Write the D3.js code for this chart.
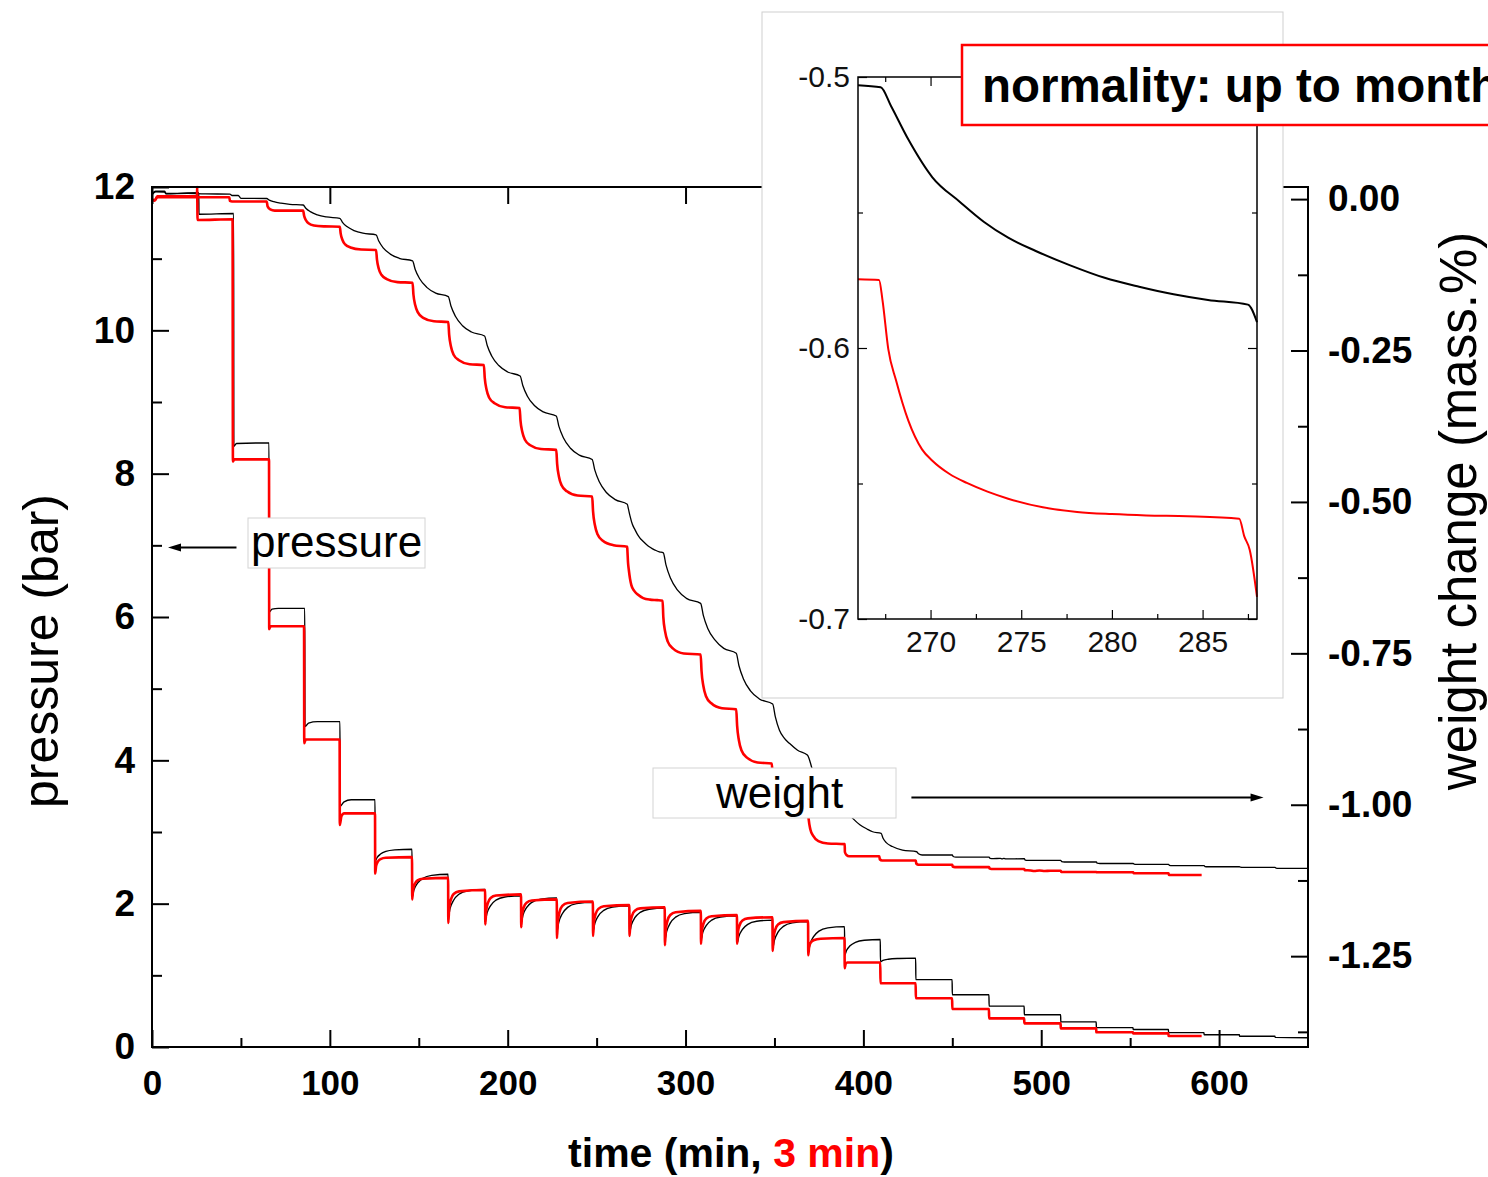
<!DOCTYPE html>
<html><head><meta charset="utf-8">
<script src="https://cdn.jsdelivr.net/npm/d3@7"></script>
<style>
body{margin:0;background:#fff}
svg{display:block}
text{font-family:"Liberation Sans",Arial,Helvetica,sans-serif}
</style>
</head><body>
<svg id="c" width="1488" height="1177"></svg>
<script>
// ---------------- DATA ----------------
const timeTicks = [0,100,200,300,400,500,600];
const timeTickLabels = ["0","100","200","300","400","500","600"];
const timeMinorTicks = [50,150,250,350,450,550];
const pressureTicks = [0,2,4,6,8,10,12];
const pressureTickLabels = ["0","2","4","6","8","10","12"];
const pressureMinorTicks = [1,3,5,7,9,11];
const weightTicks = [0,-0.25,-0.5,-0.75,-1.0,-1.25];
const weightTickLabels = ["0.00","-0.25","-0.50","-0.75","-1.00","-1.25"];
const weightMinorTicks = [-0.125,-0.375,-0.625,-0.875,-1.125,-1.375];
const insetTimeTicks = [270,275,280,285];
const insetTimeTickLabels = ["270","275","280","285"];
const insetTimeMinorTicks = [267.5,272.5,277.5,282.5,287.5];
const insetWeightTicks = [-0.5,-0.6,-0.7];
const insetWeightTickLabels = ["-0.5","-0.6","-0.7"];
const insetWeightMinorTicks = [-0.55,-0.65];

// [time (min), pressure (bar)]
const pressureRed = [
[0,11.83],[1.5,11.81],[3,11.87],[25.3,11.87],[25.4,12.0],[25.6,11.54],[45.3,11.55],[45.5,8.17],[46.2,8.2],[65.8,8.2],
[65.9,5.83],[66.6,5.87],[85.5,5.87],[85.6,4.24],[86.4,4.29],[105.5,4.29],[105.6,3.10],[106.5,3.22],[108,3.26],[125.4,3.26],
[125.5,2.42],[126,2.524],[127,2.586],[128.5,2.622],[131.5,2.641],[146.2,2.65],
[146.3,2.06],[146.8,2.195],[147.8,2.276],[149.3,2.324],[152.3,2.348],[166.5,2.36],
[166.6,1.73],[167.1,1.937],[168.1,2.061],[169.6,2.135],[172.6,2.172],[187.3,2.19],
[187.4,1.71],[187.9,1.899],[188.9,2.012],[190.4,2.08],[193.4,2.113],[207.5,2.13],
[207.6,1.67],[208.1,1.846],[209.1,1.951],[210.6,2.013],[213.6,2.044],[227.6,2.06],
[227.7,1.52],[228.2,1.75],[229.2,1.887],[230.7,1.969],[233.7,2.01],[247.9,2.03],
[248,1.55],[248.5,1.744],[249.5,1.86],[251,1.928],[254,1.963],[268.4,1.98],
[268.5,1.55],[269,1.73],[270,1.838],[271.5,1.902],[274.5,1.934],[288.3,1.95],
[288.4,1.42],[288.9,1.636],[289.9,1.766],[291.4,1.842],[294.4,1.881],[308.6,1.90],
[308.7,1.44],[309.2,1.62],[310.2,1.728],[311.7,1.792],[314.7,1.824],[328.9,1.84],
[329,1.44],[329.5,1.607],[330.5,1.706],[332,1.766],[335,1.795],[348.9,1.81],
[349,1.34],[349.5,1.529],[350.5,1.642],[352,1.71],[355,1.743],[368.9,1.76],
[369,1.28],[369.5,1.40],[370.5,1.46],[372,1.49],[376,1.51],[389.4,1.52],
[389.5,1.10],[390,1.16],[391,1.18],[409.5,1.18],
[409.6,0.89],[429.4,0.89],
[429.5,0.68],[449.9,0.68],
[450,0.53],[470.6,0.53],
[470.7,0.40],[490.4,0.40],
[490.5,0.33],[510.9,0.33],
[511,0.26],[530.9,0.26],
[531,0.205],[551.6,0.205],
[551.7,0.19],[571.5,0.19],
[571.6,0.153],[590.2,0.153]
];
const pressureBlack = [
[0,11.9],[2,11.94],[7,11.94],[8,11.91],[26.3,11.92],[26.4,11.62],[45.9,11.63],[46,8.38],[47.5,8.42],[65.8,8.43],
[65.9,6.07],[67.5,6.11],[71,6.12],[85.9,6.12],[86,4.47],[88,4.52],[93,4.54],[105.7,4.54],[105.8,3.36],[108,3.42],[112,3.45],[125.4,3.45],
[125.5,2.59],[126.5,2.641],[128.5,2.692],[131.5,2.729],[136.5,2.75],[146.2,2.76],
[146.3,2.10],[147.3,2.193],[149.3,2.286],[152.3,2.354],[157.3,2.395],[166.5,2.41],
[166.6,1.82],[167.6,1.934],[169.6,2.048],[172.6,2.132],[177.6,2.181],[187.3,2.20],
[187.4,1.77],[188.4,1.872],[190.4,1.974],[193.4,2.049],[198.4,2.093],[207.5,2.11],
[207.6,1.74],[208.6,1.842],[210.6,1.944],[213.6,2.019],[218.6,2.063],[227.6,2.08],
[227.7,1.62],[228.7,1.74],[230.7,1.86],[233.7,1.948],[238.7,2.0],[247.9,2.02],
[248,1.62],[249,1.725],[251,1.83],[254,1.907],[259,1.952],[268.4,1.97],
[268.5,1.60],[269.5,1.702],[271.5,1.804],[274.5,1.879],[279.5,1.923],[288.3,1.94],
[288.4,1.50],[289.4,1.614],[291.4,1.728],[294.4,1.812],[299.4,1.861],[308.6,1.88],
[308.7,1.50],[309.7,1.599],[311.7,1.698],[314.7,1.771],[319.7,1.814],[328.9,1.83],
[329,1.45],[330,1.546],[332,1.642],[335,1.712],[340,1.754],[348.9,1.77],
[349,1.38],[350,1.491],[352,1.602],[355,1.683],[360,1.732],[368.9,1.75],
[369,1.33],[370,1.435],[372,1.54],[375,1.617],[380,1.663],[389.4,1.68],
[389.5,1.28],[390.5,1.346],[392.5,1.412],[395.5,1.46],[400.5,1.489],[409.5,1.50],
[409.6,1.19],[411,1.21],[414,1.225],[420,1.235],[429.4,1.24],
[429.5,0.94],[449.9,0.94],
[450,0.73],[470.6,0.73],
[470.7,0.57],[490.4,0.57],
[490.5,0.45],[510.9,0.45],
[511,0.35],[530.9,0.35],
[531,0.27],[551.6,0.27],
[551.7,0.245],[571.5,0.245],
[571.6,0.20],[591.5,0.20],
[591.6,0.17],[611.4,0.17],
[611.5,0.15],[631.4,0.15],
[631.5,0.135],[650,0.13]
];
// [time (min), weight change (mass.%)]
const weightRed = [
[0,-0.0015],[1.5,-0.002],[3,0.003],[43.5,0.003],[43.8,-0.003],[45,-0.004],[64.5,-0.004],
[65,-0.012],[66.5,-0.017],[69,-0.019],[85,-0.019],
[85.5,-0.027],[86.5,-0.0345],[88,-0.040],[91,-0.0435],[97,-0.045],[105.6,-0.0456],
[106.1,-0.057],[107.1,-0.0675],[108.6,-0.0748],[111.6,-0.0798],[117.6,-0.0833],[126,-0.084],
[126.5,-0.100],[127.5,-0.115],[129,-0.125],[132,-0.132],[138,-0.137],[146.5,-0.138],
[147,-0.1575],[148,-0.175],[149.5,-0.187],[152.5,-0.196],[158.5,-0.2017],[166.6,-0.203],
[167.1,-0.224],[168.1,-0.2435],[169.6,-0.257],[172.6,-0.266],[178.6,-0.2726],[186.6,-0.274],
[187.1,-0.295],[188.1,-0.3145],[189.6,-0.328],[192.6,-0.337],[198.6,-0.3436],[206.7,-0.345],
[207.2,-0.3657],[208.2,-0.3843],[209.7,-0.3974],[212.7,-0.4064],[218.7,-0.4126],[227.3,-0.414],
[227.8,-0.437],[228.8,-0.458],[230.3,-0.4725],[233.3,-0.4825],[239.3,-0.4895],[247.5,-0.491],
[248,-0.5156],[249,-0.5377],[250.5,-0.5533],[253.5,-0.564],[259.5,-0.5714],[267.2,-0.574],
[267.35,-0.5823],[267.67,-0.6004],[268.1,-0.612],[268.77,-0.6267],[269.53,-0.6374],[271.05,-0.6465],[273.14,-0.653],[276.19,-0.6588],[279.99,-0.6613],[284.17,-0.6621],[287.1,-0.663],
[287.5,-0.6897],[288.5,-0.7137],[290,-0.7306],[293,-0.7422],[299,-0.7502],[308.5,-0.752],
[309,-0.7792],[310,-0.8036],[311.5,-0.8208],[314.5,-0.8325],[320.5,-0.8407],[328.5,-0.8425],
[329,-0.8694],[330,-0.8935],[331.5,-0.9105],[334.5,-0.9222],[340.5,-0.9302],[348.5,-0.932],
[349,-0.954],[350,-0.9736],[351.5,-0.9875],[354.5,-0.997],[360.5,-1.0035],[368.7,-1.005],
[369.2,-1.023],[370.2,-1.041],[371.7,-1.051],[374.7,-1.060],[380,-1.064],[389.5,-1.065],
[389.6,-1.078],[390.5,-1.083],[392,-1.085],[409,-1.085],
[409.2,-1.090],[410.5,-1.092],[429.5,-1.092],
[429.7,-1.097],[431,-1.099],[450,-1.099],
[450.2,-1.102],[451.5,-1.103],[470.7,-1.103],
[470.9,-1.105],[472,-1.106],[490.5,-1.106],
[490.7,-1.108],[494,-1.1085],[496,-1.1095],[499,-1.1085],[502,-1.1095],[505,-1.109],[511,-1.109],
[511.2,-1.111],[531,-1.111],
[531.2,-1.1115],[551.7,-1.1115],
[551.9,-1.113],[571.6,-1.113],
[571.8,-1.116],[590.2,-1.116]
];
const weightBlack = [
[0,0.007],[2,0.012],[7,0.0115],[8,0.0085],[20,0.0095],[30,0.0085],[43.8,0.0084],[45,0.006],[48.5,0.006],[50,0.0013],[64.5,0.001],
[66,-0.0016],[68.5,-0.0043],[72.5,-0.0068],[77.5,-0.0086],[85,-0.0097],
[86.5,-0.015],[89,-0.0207],[93,-0.026],[98,-0.0295],[105.6,-0.0317],
[107.1,-0.0383],[109.6,-0.0454],[113.6,-0.0519],[118.6,-0.0563],[126,-0.059],
[127.5,-0.0693],[130,-0.0805],[134,-0.0908],[139,-0.0977],[146.5,-0.102],
[148,-0.1162],[150.5,-0.1315],[154.5,-0.1457],[159.5,-0.1551],[166.6,-0.161],
[168.1,-0.1766],[170.6,-0.1935],[174.6,-0.2091],[179.6,-0.2195],[187,-0.226],
[188.5,-0.2418],[191,-0.259],[195,-0.2748],[200,-0.2854],[207,-0.292],
[208.5,-0.3078],[211,-0.325],[215,-0.3408],[220,-0.3514],[227.3,-0.358],
[228.8,-0.3753],[231.3,-0.394],[235.3,-0.4113],[240.3,-0.4228],[247.5,-0.430],
[249,-0.4476],[251.5,-0.4668],[255.5,-0.4844],[260.5,-0.4962],[267.25,-0.5038],
[267.82,-0.5107],[268.77,-0.523],[270.1,-0.537],[271.62,-0.5461],[272.95,-0.5535],[274.28,-0.5593],[275.8,-0.5642],[277.7,-0.5695],[279.6,-0.5741],[281.5,-0.5774],[283.4,-0.5802],[285.3,-0.5823],[287.5,-0.584],
[289,-0.604],[291.5,-0.6258],[295.5,-0.6458],[300.5,-0.6592],[308.5,-0.6675],
[310,-0.6873],[312.5,-0.7088],[316.5,-0.7278],[321.5,-0.7418],[328.5,-0.750],
[330,-0.7701],[332.5,-0.7919],[336.5,-0.8119],[341.5,-0.8253],[349,-0.8337],
[350.5,-0.855],[352.8,-0.877],[355.5,-0.89],[358.4,-0.8986],[363,-0.910],[368.5,-0.918],
[369.5,-0.924],[371,-0.939],[374,-0.96],[378,-0.98],[383,-0.996],[389.5,-1.007],
[391,-1.013],[394,-1.0225],[398,-1.033],[402,-1.040],[405.2,-1.0446],[410,-1.0472],
[411,-1.055],[413,-1.063],[416.3,-1.069],[422,-1.075],[430,-1.0776],
[431,-1.081],[433,-1.083],[450,-1.083],
[450.5,-1.0855],[452,-1.0865],[470.7,-1.0865],
[471.2,-1.0885],[473,-1.089],[477,-1.0885],[478,-1.0895],[479,-1.0885],[480,-1.0895],[490.5,-1.089],
[491,-1.0915],[492.5,-1.092],[511,-1.092],
[511.5,-1.094],[513,-1.0945],[531,-1.0945],
[531.5,-1.0965],[533,-1.097],[551.7,-1.097],
[552.2,-1.098],[553.5,-1.0985],[571.6,-1.0985],
[572.1,-1.100],[573.5,-1.1005],[591.6,-1.1005],
[592.1,-1.102],[593.5,-1.1024],[611.5,-1.1024],
[612,-1.103],[613.5,-1.1035],[631.5,-1.1035],
[632,-1.1045],[633.5,-1.105],[650,-1.105]
];
// inset: [time (min), weight change (mass.%)]
const insetBlack = [[266,-0.5030],[267.25,-0.5038],[267.82,-0.5107],[268.77,-0.523],[270.1,-0.537],[271.62,-0.5461],[272.95,-0.5535],[274.28,-0.5593],[275.8,-0.5642],[277.7,-0.5695],[279.6,-0.5741],[281.5,-0.5774],[283.4,-0.5802],[285.3,-0.5823],[287.5,-0.584],[288,-0.5905]];
const insetRed = [[266,-0.5746],[267.16,-0.5749],[267.35,-0.5823],[267.67,-0.6004],[268.1,-0.612],[268.77,-0.6267],[269.53,-0.6374],[270.1,-0.6416],[271.05,-0.6465],[272,-0.6498],[273.14,-0.653],[274.28,-0.6556],[276.19,-0.6588],[278.08,-0.6605],[279.99,-0.6613],[281.89,-0.6618],[284.17,-0.6621],[287.02,-0.663],[287.3,-0.6695],[287.6,-0.6745],[288,-0.6918]];

// ---------------- LAYOUT ----------------
const FONT = '"Liberation Sans",Arial,Helvetica,sans-serif';
const RED = '#ff0000';
const svg = d3.select('#c');
svg.append('rect').attr('width',1488).attr('height',1177).attr('fill','#fff');

const M = {l:152, r:1308, t:187, b:1047};
const x = d3.scaleLinear().domain([0,650]).range([M.l,M.r]);
const yP = d3.scaleLinear().domain([0,12]).range([M.b,M.t]);
const yW = d3.scaleLinear().domain([-1.4,0.02]).range([M.b,M.t]);

const defs = svg.append('defs');
defs.append('clipPath').attr('id','plotclip').append('rect')
  .attr('x',M.l).attr('y',M.t-3).attr('width',M.r-M.l).attr('height',M.b-M.t+3);

const plot = svg.append('g').attr('clip-path','url(#plotclip)');
const lineP = d3.line().x(d=>x(d[0])).y(d=>yP(d[1])).curve(d3.curveMonotoneX);
const lineW = d3.line().x(d=>x(d[0])).y(d=>yW(d[1])).curve(d3.curveMonotoneX);

plot.append('path').datum(weightBlack).attr('d',lineW).attr('fill','none').attr('stroke','#000').attr('stroke-width',1.3);
plot.append('path').datum(pressureBlack).attr('d',lineP).attr('fill','none').attr('stroke','#000').attr('stroke-width',1.4);
plot.append('path').datum(weightRed).attr('d',lineW).attr('fill','none').attr('stroke',RED).attr('stroke-width',2.6);
plot.append('path').datum(pressureRed).attr('d',lineP).attr('fill','none').attr('stroke',RED).attr('stroke-width',2.6);

function styleAxis(g, size, weight){
  g.select('.domain').remove();
  g.selectAll('.tick line').attr('stroke','#000').attr('stroke-width',2);
  g.selectAll('.tick text').attr('font-family',FONT).attr('font-size',size).attr('font-weight',weight).attr('fill','#000');
  g.attr('font-family',null).attr('font-size',null);
}

// bottom axis
svg.append('g').attr('transform',`translate(0,${M.b})`)
  .call(d3.axisBottom(x).tickValues(timeTicks).tickFormat((d,i)=>timeTickLabels[i]).tickSize(-17).tickPadding(23))
  .call(g=>styleAxis(g,35,'bold'));
svg.append('g').attr('transform',`translate(0,${M.b})`)
  .call(d3.axisBottom(x).tickValues(timeMinorTicks).tickFormat('').tickSize(-9))
  .call(g=>styleAxis(g,35,'bold'));
// top axis
svg.append('g').attr('transform',`translate(0,${M.t})`)
  .call(d3.axisTop(x).tickValues(timeTicks).tickFormat('').tickSize(-17))
  .call(g=>styleAxis(g,35,'bold'));
// left axis
svg.append('g').attr('transform',`translate(${M.l},0)`)
  .call(d3.axisLeft(yP).tickValues(pressureTicks).tickFormat((d,i)=>pressureTickLabels[i]).tickSize(-17).tickPadding(17))
  .call(g=>styleAxis(g,37,'bold'));
svg.append('g').attr('transform',`translate(${M.l},0)`)
  .call(d3.axisLeft(yP).tickValues(pressureMinorTicks).tickFormat('').tickSize(-10))
  .call(g=>styleAxis(g,37,'bold'));
// right axis
svg.append('g').attr('transform',`translate(${M.r},0)`)
  .call(d3.axisRight(yW).tickValues(weightTicks).tickFormat((d,i)=>weightTickLabels[i]).tickSize(-17).tickPadding(20))
  .call(g=>styleAxis(g,37,'bold'));
svg.append('g').attr('transform',`translate(${M.r},0)`)
  .call(d3.axisRight(yW).tickValues(weightMinorTicks).tickFormat('').tickSize(-10))
  .call(g=>styleAxis(g,37,'bold'));

// frame
svg.append('rect').attr('x',M.l).attr('y',M.t).attr('width',M.r-M.l).attr('height',M.b-M.t)
  .attr('fill','none').attr('stroke','#000').attr('stroke-width',2);

// axis titles
svg.append('text').attr('transform','translate(58,651) rotate(-90)').attr('text-anchor','middle')
  .attr('font-family',FONT).attr('font-size',50).text('pressure (bar)');
svg.append('text').attr('transform','translate(1476,511) rotate(-90)').attr('text-anchor','middle')
  .attr('font-family',FONT).attr('font-size',51).text('weight change (mass.%)');
const xt = svg.append('text').attr('x',731).attr('y',1167).attr('text-anchor','middle')
  .attr('font-family',FONT).attr('font-size',41).attr('font-weight','bold');
xt.append('tspan').text('time (min, ');
xt.append('tspan').attr('fill',RED).text('3 min');
xt.append('tspan').text(')');

// annotation arrows + labels
function arrow(x1,x2,y){
  const dir = Math.sign(x2-x1);
  svg.append('line').attr('x1',x1).attr('x2',x2-dir*10).attr('y1',y).attr('y2',y).attr('stroke','#000').attr('stroke-width',2);
  svg.append('path').attr('d',`M${x2},${y}L${x2-dir*13},${y-4}L${x2-dir*13},${y+4}Z`).attr('fill','#000');
}
arrow(x(47.5), x(9), yP(6.97));
arrow(x(427), x(625), yW(-0.988));

svg.append('rect').attr('x',248).attr('y',518).attr('width',177).attr('height',50)
  .attr('fill','#fff').attr('stroke','#d4d4d4').attr('stroke-width',1);
svg.append('text').attr('x',251).attr('y',557).attr('font-family',FONT).attr('font-size',44).text('pressure');
svg.append('rect').attr('x',653).attr('y',768).attr('width',243).attr('height',50)
  .attr('fill','#fff').attr('stroke','#d4d4d4').attr('stroke-width',1);
svg.append('text').attr('x',716).attr('y',808).attr('font-family',FONT).attr('font-size',44).text('weight');

// ---------------- INSET ----------------
svg.append('rect').attr('x',762).attr('y',12).attr('width',521).attr('height',686)
  .attr('fill','#fff').attr('stroke','#cfcfcf').attr('stroke-width',1);
const I = {l:858, r:1257, t:77, b:619};
const xi = d3.scaleLinear().domain([266,288]).range([I.l,I.r]);
const yi = d3.scaleLinear().domain([-0.7,-0.5]).range([I.b,I.t]);
const lineI = d3.line().x(d=>xi(d[0])).y(d=>yi(d[1])).curve(d3.curveMonotoneX);
svg.append('path').datum(insetBlack).attr('d',lineI).attr('fill','none').attr('stroke','#000').attr('stroke-width',2);
svg.append('path').datum(insetRed).attr('d',lineI).attr('fill','none').attr('stroke',RED).attr('stroke-width',2);

function styleInset(g){
  g.select('.domain').remove();
  g.selectAll('.tick line').attr('stroke','#000').attr('stroke-width',1.2);
  g.selectAll('.tick text').attr('font-family',FONT).attr('font-size',30).attr('fill','#111');
  g.attr('font-family',null).attr('font-size',null);
}
svg.append('g').attr('transform',`translate(0,${I.b})`)
  .call(d3.axisBottom(xi).tickValues(insetTimeTicks).tickFormat((d,i)=>insetTimeTickLabels[i]).tickSize(-9).tickPadding(12)).call(styleInset);
svg.append('g').attr('transform',`translate(0,${I.b})`)
  .call(d3.axisBottom(xi).tickValues(insetTimeMinorTicks).tickFormat('').tickSize(-5)).call(styleInset);
svg.append('g').attr('transform',`translate(0,${I.t})`)
  .call(d3.axisTop(xi).tickValues(insetTimeTicks).tickFormat('').tickSize(-9)).call(styleInset);
svg.append('g').attr('transform',`translate(0,${I.t})`)
  .call(d3.axisTop(xi).tickValues(insetTimeMinorTicks).tickFormat('').tickSize(-5)).call(styleInset);
svg.append('g').attr('transform',`translate(${I.l},0)`)
  .call(d3.axisLeft(yi).tickValues(insetWeightTicks).tickFormat((d,i)=>insetWeightTickLabels[i]).tickSize(-9).tickPadding(8)).call(styleInset);
svg.append('g').attr('transform',`translate(${I.l},0)`)
  .call(d3.axisLeft(yi).tickValues(insetWeightMinorTicks).tickFormat('').tickSize(-5)).call(styleInset);
svg.append('g').attr('transform',`translate(${I.r},0)`)
  .call(d3.axisRight(yi).tickValues(insetWeightTicks).tickFormat('').tickSize(-9)).call(styleInset);
svg.append('g').attr('transform',`translate(${I.r},0)`)
  .call(d3.axisRight(yi).tickValues(insetWeightMinorTicks).tickFormat('').tickSize(-5)).call(styleInset);
svg.append('rect').attr('x',I.l).attr('y',I.t).attr('width',I.r-I.l).attr('height',I.b-I.t)
  .attr('fill','none').attr('stroke','#000').attr('stroke-width',1.5);

// note box
svg.append('rect').attr('x',962).attr('y',45).attr('width',560).attr('height',80)
  .attr('fill','#fff').attr('stroke',RED).attr('stroke-width',2.5);
svg.append('text').attr('x',982).attr('y',102).attr('font-family',FONT).attr('font-size',47.5)
  .attr('font-weight','bold').text('normality: up to month');
</script>
</body></html>
